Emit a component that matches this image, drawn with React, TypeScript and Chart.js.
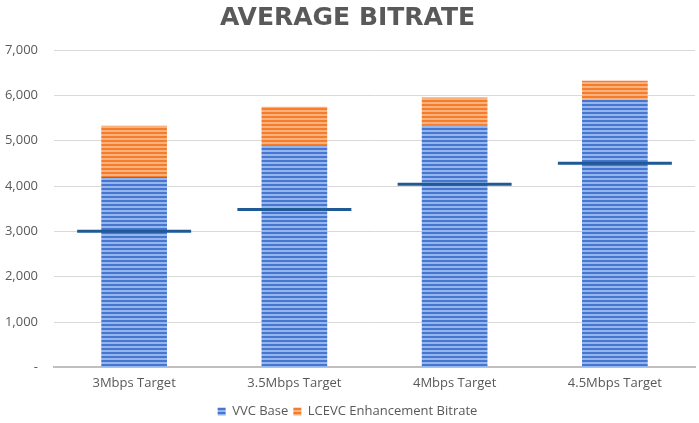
import { useEffect, useRef } from "react";
import { Chart, registerables } from "chart.js";

Chart.register(...registerables);

const categories = ["3Mbps Target", "3.5Mbps Target", "4Mbps Target", "4.5Mbps Target"];
const vvcBase = [4200, 4900, 5330, 5900];
const lcevcEnhancement = [1130, 850, 620, 420];
const targets = [3000, 3480, 4040, 4500];

function stripes(dark: string, light: string) {
  const c = document.createElement("canvas");
  c.width = 1;
  c.height = 4;
  const g = c.getContext("2d")!;
  g.fillStyle = dark;
  g.fillRect(0, 0, 1, 2);
  g.fillStyle = light;
  g.fillRect(0, 2, 1, 2);
  return g.createPattern(c, "repeat")!;
}

const FONT = "'Open Sans', sans-serif";

export default function App() {
  const chartRef = useRef<HTMLCanvasElement>(null);

  useEffect(() => {
    if (!chartRef.current) return;
    const ctx = chartRef.current.getContext("2d");
    if (!ctx) return;

    const blue = stripes("#4676cf", "#94b6ec");
    const orange = stripes("#f47c2a", "#fab27e");

    const chart = new Chart(ctx, {
      type: "bar",
      data: {
        labels: categories,
        datasets: [
          {
            label: "VVC Base",
            data: vvcBase,
            backgroundColor: blue as any,
            stack: "bitrate",
            order: 1,
            categoryPercentage: 1,
            barPercentage: 0.41,
          },
          {
            label: "LCEVC Enhancement Bitrate",
            data: lcevcEnhancement,
            backgroundColor: orange as any,
            stack: "bitrate",
            order: 1,
            categoryPercentage: 1,
            barPercentage: 0.41,
          },
          {
            type: "line",
            label: "Target",
            data: targets,
            stack: "target",
            order: 0,
            showLine: false,
            clip: false,
            pointStyle: "line",
            pointRadius: 57,
            pointHoverRadius: 57,
            pointBorderWidth: 3,
            pointBorderColor: "#1f5a96",
            borderColor: "#1f5a96",
          } as any,
        ],
      },
      options: {
        animation: false,
        responsive: true,
        maintainAspectRatio: false,
        layout: { autoPadding: false, padding: { top: 0, right: 4, bottom: -5, left: 0 } },
        plugins: {
          title: {
            display: true,
            text: "AVERAGE BITRATE",
            color: "#595959",
            font: { family: "'DejaVu Sans'", size: 25, weight: "bold" },
            padding: { top: 3, bottom: 17 },
          },
          legend: {
            position: "bottom",
            labels: {
              filter: (item) => item.text !== "Target",
              boxWidth: 8,
              boxHeight: 8,
              color: "#595959",
              font: { family: FONT, size: 13 },
              padding: 5,
            },
          },
          tooltip: { enabled: false },
        },
        scales: {
          x: {
            stacked: true,
            grid: { display: false, drawTicks: false },
            border: { color: "#bfbfbf", width: 2 },
            ticks: { color: "#595959", font: { family: FONT, size: 13, lineHeight: 0.2 }, padding: 15 },
          },
          y: {
            stacked: true,
            min: 0,
            max: 7000,
            afterFit: (scale) => {
              scale.width = 54;
            },
            ticks: {
              stepSize: 1000,
              color: "#595959",
              font: { family: FONT, size: 13 },
              padding: 16,
              callback: (value) => (Number(value) === 0 ? "-" : Number(value).toLocaleString("en-US")),
            },
            grid: { color: "#d9d9d9", drawTicks: false },
            border: { display: false },
          },
        },
      },
    });

    return () => chart.destroy();
  }, []);

  return (
    <div style={{ position: "fixed", left: 0, top: 0, width: 699, height: 423, background: "#fff" }}>
      <canvas ref={chartRef} />
    </div>
  );
}
